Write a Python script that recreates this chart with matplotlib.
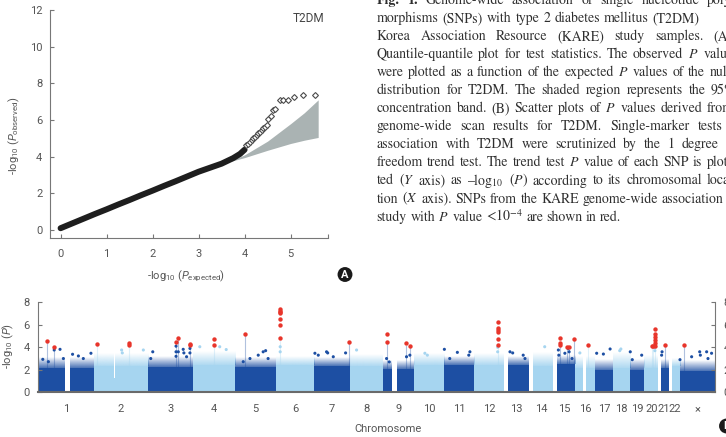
import numpy as np
import matplotlib.pyplot as plt
import matplotlib.colors as mcolors

W, H = 726, 437

# ---- QQ plot data ----
qq_exp = [0.0, 0.25, 0.5, 0.75, 1.0, 1.25, 1.5, 1.75, 2.0, 2.25, 2.5, 2.75,
          3.0, 3.25, 3.5, 3.75, 3.9, 4.0]
qq_obs = [0.10, 0.36, 0.62, 0.88, 1.13, 1.39, 1.64, 1.90, 2.15, 2.41, 2.66, 2.92,
          3.18, 3.40, 3.62, 3.92, 4.15, 4.38]
tail_exp = [4.04, 4.08, 4.12, 4.16, 4.19, 4.23, 4.26, 4.30, 4.33, 4.37, 4.41, 4.45,
            4.48, 4.52, 4.57, 4.62, 4.67, 4.77, 4.84, 4.95, 5.07, 5.26, 5.54]
tail_obs = [4.62, 4.70, 4.80, 4.92, 5.02, 5.10, 5.20, 5.28, 5.36, 5.45, 5.55, 5.64,
            5.72, 6.05, 6.23, 6.52, 6.60, 7.07, 7.07, 7.10, 7.28, 7.34, 7.34]
band_exp = [3.7, 4.0, 4.5, 5.0, 5.3, 5.6]
band_hi = [3.78, 4.1, 4.85, 5.8, 6.4, 7.1]
band_lo = [3.75, 3.95, 4.35, 4.72, 4.9, 5.05]

# ---- Manhattan data (panel B) ----
chrom_names = ['1', '2', '3', '4', '5', '6', '7', '8', '9', '10', '11', '12', '13',
               '14', '15', '16', '17', '18', '19', '20', '21', '22', '×']
chrom_len = [247, 243, 199, 191, 181, 171, 159, 146, 140, 135, 134, 132, 114,
             106, 100, 89, 79, 76, 64, 62, 47, 50, 155]
solid_top = [2.2, 2.3, 2.25, 2.4, 2.25, 2.4, 2.3, 2.3, 2.1, 2.4, 2.4, 2.4, 2.4,
             2.3, 2.5, 2.2, 2.0, 2.2, 2.0, 2.2, 2.2, 2.3, 1.9]
fuzz_top = [3.1, 3.4, 3.2, 3.6, 3.1, 3.2, 3.1, 3.3, 2.9, 3.4, 3.2, 3.4, 3.2,
            3.5, 3.3, 3.2, 2.9, 3.6, 2.9, 3.3, 3.0, 3.0, 2.8]

gap_chr = [1, 9, 16, 13, 14, 15, 21, 22, 2]
gap_start = [121, 44, 35, 0, 0, 0, 0, 0, 90]
gap_end = [143, 66, 46, 18, 18, 18, 13, 15, 97]
gap_level = [0, 0, 0, 0, 0, 0, 0, 0, 1.3]

out_chr = [1, 1, 1, 1, 1, 1, 1, 1, 1, 2, 2, 2, 3, 3, 3, 3, 3, 3, 3, 3, 3, 3, 3,
           4, 4, 4, 5, 5, 5, 5, 5, 5, 6, 6, 7, 7, 7, 7, 7, 7, 8, 9, 9, 9, 9,
           10, 10, 11, 11, 11, 11, 11, 12, 12, 13, 13, 13, 13, 14, 15, 15, 15, 15, 15, 15,
           16, 17, 17, 17, 18, 18, 19, 19, 19, 20, 20, 21, 21,
           23, 23, 23, 23, 23, 23, 23]
out_pos = [20, 45, 71, 97, 112, 153, 179, 201, 235, 125, 128, 222, 12, 21, 125, 125, 125, 135, 157, 160, 172, 187, 187,
           32, 121, 150, 35, 65, 102, 124, 135, 146, 19, 19, 3, 18, 55, 60, 85, 140, 30, 18, 107, 122, 30,
           49, 60, 1, 25, 59, 115, 110, 105, 105, 28, 40, 87, 95, 69, 24, 26, 53, 68, 72, 85,
           20, 6, 36, 66, 30, 35, 1, 10, 52, 47, 47, 15, 17,
           0, 52, 88, 91, 119, 125, 141]
out_val = [2.93, 2.72, 3.76, 3.82, 3.0, 3.38, 3.23, 3.0, 3.47, 3.76, 3.5, 3.76, 3.0, 3.6, 4.1, 3.6, 3.2, 3.6, 3.82, 3.5, 3.16, 3.9, 3.5,
           4.05, 4.05, 3.8, 2.72, 3.0, 3.3, 3.6, 3.7, 3.0, 4.05, 3.6, 3.47, 3.3, 3.6, 3.5, 3.16, 3.5, 3.76, 3.0, 3.16, 3.3, 2.7,
           3.47, 3.3, 3.82, 3.0, 3.55, 3.6, 3.3, 4.0, 3.6, 3.6, 3.5, 3.3, 3.0, 4.05, 3.76, 3.3, 3.47, 3.9, 3.6, 3.0,
           3.5, 3.47, 3.4, 3.85, 3.7, 3.85, 3.6, 2.9, 3.3, 4.0, 3.7, 3.3, 3.6,
           2.9, 3.16, 3.6, 3.3, 3.6, 3.0, 3.47]

red_chr = [1, 1, 2, 2, 2, 3, 3, 3, 3, 4, 4, 5, 6, 6, 6, 6, 6, 6, 6, 7, 9, 9, 9, 9,
           12, 12, 12, 12, 12, 12, 15, 15, 15, 15, 15, 15, 16,
           20, 20, 20, 20, 20, 20, 20, 20, 21, 23]
red_pos = [40, 71, 15, 158, 158, 125, 135, 187, 187, 97, 97, 43, 19, 19, 19, 19, 19, 19, 19, 154, 18, 18, 103, 122,
           105, 105, 105, 105, 105, 105, 30, 30, 30, 61, 71, 95, 55,
           35, 40, 47, 47, 47, 47, 47, 47, 30, 19]
red_val = [4.59, 4.05, 4.29, 4.35, 4.2, 4.5, 4.85, 4.32, 4.2, 4.7, 4.2, 5.2,
           7.38, 7.25, 7.14, 7.02, 6.52, 5.98, 4.8, 4.45, 5.21, 4.45, 4.35, 4.12,
           6.22, 5.69, 5.54, 5.39, 4.71, 4.2, 4.8, 4.35, 4.2, 4.05, 4.0, 4.74, 4.2,
           4.15, 4.15, 5.63, 5.21, 4.94, 4.65, 4.41, 4.15, 4.2, 4.2]

caption_lines = [
    "Fig. 1. Genome-wide association of single nucleotide poly-",
    "morphisms (SNPs) with type 2 diabetes mellitus (T2DM)",
    "Korea Association Resource (KARE) study samples. (A)",
    "Quantile-quantile plot for test statistics. The observed $P$ values",
    "were plotted as a function of the expected $P$ values of the null",
    "distribution for T2DM. The shaded region represents the 95%",
    "concentration band. (B) Scatter plots of $P$ values derived from",
    "genome-wide scan results for T2DM. Single-marker tests",
    "association with T2DM were scrutinized by the 1 degree",
    "freedom trend test. The trend test $P$ value of each SNP is plot-",
    "ted ($Y$ axis) as –log$_{10}$ ($P$) according to its chromosomal loca-",
    "tion ($X$ axis). SNPs from the KARE genome-wide association",
    "study with $P$ value <10$^{-4}$ are shown in red.",
]
# left edge (px) of the last word in each justified line
caption_anchor = [707, 652.7, 713.3, 703.3, 709.3, 710.7, 706.7, 697.3, 681.7,
                  706.7, 706.7, 661.7, None]

DARK = '#1d4fa3'
LIGHT = '#a6d5f0'
RED = '#e8352b'
AXC = '#777777'
TXC = '#555555'

plt.rcParams['font.family'] = ['Roboto', 'DejaVu Sans']
plt.rcParams['mathtext.fontset'] = 'custom'
plt.rcParams['mathtext.rm'] = 'Roboto'
plt.rcParams['mathtext.it'] = 'Roboto:italic'
plt.rcParams['mathtext.bf'] = 'Roboto:bold'

fig = plt.figure(figsize=(W / 100, H / 100), dpi=100)

# ---------------- panel A ----------------
ax1 = fig.add_axes([50 / W, 1 - 238.3 / H, (328.3 - 50) / W, (238.3 - 10) / H])
ax1.fill_between(band_exp, band_lo, band_hi, color='#aab3b3', lw=0, zorder=1)
ax1.plot(qq_exp, qq_obs, color='#1e1e1e', lw=4.3, solid_capstyle='round', zorder=2)
ax1.plot(tail_exp, tail_obs, 'D', ms=3.0, mfc='white', mec='#4a4a4a', mew=0.8, zorder=3)
ax1.set_xlim(-0.23, 5.82)
ax1.set_ylim(-0.45, 12)
ax1.set_xticks([0, 1, 2, 3, 4, 5])
ax1.set_xticks([5.82], minor=True)
ax1.set_yticks([0, 2, 4, 6, 8, 10, 12])
for s in ['top', 'right']:
    ax1.spines[s].set_visible(False)
for s in ['left', 'bottom']:
    ax1.spines[s].set_color(AXC)
    ax1.spines[s].set_linewidth(0.8)
ax1.tick_params(which='both', direction='in', length=2.8, width=0.8, color=AXC,
                labelsize=8, labelcolor=TXC)
ax1.tick_params(axis='x', pad=7.5)
ax1.tick_params(axis='y', pad=5.5)
ax1.text(0.985, 0.99, 'T2DM', transform=ax1.transAxes, ha='right', va='top',
         fontsize=8.5, color='#444444')
fig.text(14 / W, 1 - 136 / H, r'-$\mathrm{log}_{10}$ ($P_{\mathrm{observed}}$)',
         rotation=90, ha='center', va='center', fontsize=8, color=TXC)
fig.text(185.7 / W, 1 - 276 / H, r'-$\mathrm{log}_{10}$ ($P_{\mathrm{expected}}$)',
         ha='center', va='center', fontsize=8, color=TXC)
fig.text(345 / W, 1 - 274.5 / H, 'A', ha='center', va='center', color='white',
         fontsize=8, weight='bold',
         bbox=dict(boxstyle='circle,pad=0.22', fc='#1a1a1a', ec='none'))

# ---------------- panel B ----------------
ax2 = fig.add_axes([38.3 / W, 1 - 392.3 / H, (714.7 - 38.3) / W, (392.3 - 302.3) / H])
offs = np.concatenate([[0], np.cumsum(chrom_len)[:-1]])
cols = [DARK if i % 2 == 0 else LIGHT for i in range(len(chrom_len))]


def fade_rect(ax, x0, x1, y0, y1, color, a0):
    # vertical fade to suggest the thinning cloud of SNPs above the dense band
    rgb = mcolors.to_rgb(color)
    img = np.zeros((48, 1, 4))
    img[..., :3] = rgb
    img[:, 0, 3] = np.linspace(a0, 0.0, 48)
    ax.imshow(img, extent=[x0, x1, y0, y1], origin='lower', aspect='auto',
              interpolation='bilinear', zorder=1)


for i in range(len(chrom_len)):
    s, e = offs[i], offs[i] + chrom_len[i]
    c = cols[i]
    ax2.fill_between([s, e], 0, solid_top[i], color=c, lw=0, zorder=1)
    fade_rect(ax2, s, e, solid_top[i], fuzz_top[i], c, 0.8 if i % 2 == 0 else 0.9)

for c_, gs, ge, gl in zip(gap_chr, gap_start, gap_end, gap_level):
    o = offs[c_ - 1]
    ax2.fill_between([o + gs, o + ge], gl, 4, color='white', lw=0, zorder=1.5)

# columns under the significant peaks
for c_, p in sorted(set(zip(red_chr, red_pos))):
    vals = [v for cc, pp, v in zip(red_chr, red_pos, red_val) if cc == c_ and pp == p]
    ax2.plot([offs[c_ - 1] + p] * 2, [solid_top[c_ - 1], min(vals) - 0.2],
             color=cols[c_ - 1], lw=0.8, alpha=0.35, zorder=2)

ox = [offs[c - 1] + p for c, p in zip(out_chr, out_pos)]
oc = [cols[c - 1] for c in out_chr]
ax2.scatter(ox, out_val, s=5, c=oc, lw=0, zorder=3)
rx = [offs[c - 1] + p for c, p in zip(red_chr, red_pos)]
ax2.scatter(rx, red_val, s=10, c=RED, lw=0, zorder=4)

ax2.set_xlim(0, sum(chrom_len))
ax2.set_ylim(0, 8)
ax2.set_yticks([0, 2, 4, 6, 8])
ax2.set_xticks(offs + np.array(chrom_len) / 2)
ax2.set_xticklabels(chrom_names)
ax2.spines['top'].set_visible(False)
for s in ['left', 'right']:
    ax2.spines[s].set_color(AXC)
    ax2.spines[s].set_linewidth(0.8)
ax2.spines['bottom'].set_color('#6a6a6a')
ax2.spines['bottom'].set_linewidth(1.5)
ax2.tick_params(axis='y', direction='in', length=2.8, width=0.8, color=AXC,
                labelsize=8, labelcolor=TXC, left=True, right=True,
                labelleft=True, labelright=True, pad=6.3)
ax2.tick_params(axis='x', length=0, labelsize=8, labelcolor=TXC, pad=8.5)
fig.text(8 / W, 1 - 346 / H, r'-$\mathrm{log}_{10}$ ($P$)', rotation=90,
         ha='center', va='center', fontsize=8, color=TXC)
fig.text(388 / W, 1 - 429 / H, 'Chromosome', ha='center', va='center',
         fontsize=8, color=TXC)
fig.text(726.5 / W, 1 - 426 / H, 'B', ha='center', va='center', color='white',
         fontsize=8, weight='bold',
         bbox=dict(boxstyle='circle,pad=0.22', fc='#1a1a1a', ec='none'))

# ---------------- caption ----------------
renderer = fig.canvas.get_renderer()
cap_x0 = 376.7
cap_size = 10.0
for i, line in enumerate(caption_lines):
    words = line.split(' ')
    base_y = 4.0 + i * 18.05
    texts = []
    for j, w in enumerate(words):
        bold = (i == 0 and j < 2)
        t = fig.text(0, 1 - base_y / H, w, fontsize=cap_size, family='STIXGeneral',
                     math_fontfamily='stix', weight='bold' if bold else 'normal',
                     color='#2e2e2e', va='baseline', ha='left')
        texts.append(t)
    widths = [t.get_window_extent(renderer).width for t in texts]
    anchor = caption_anchor[i]
    if anchor is None:
        gap = cap_size * 100 / 72 * 0.25
    else:
        gap = (anchor - cap_x0 - sum(widths[:-1])) / (len(words) - 1)
    x = cap_x0
    for t, w in zip(texts, widths):
        t.set_x(x / W)
        x += w + gap

fig.savefig('out.png', dpi=100)
